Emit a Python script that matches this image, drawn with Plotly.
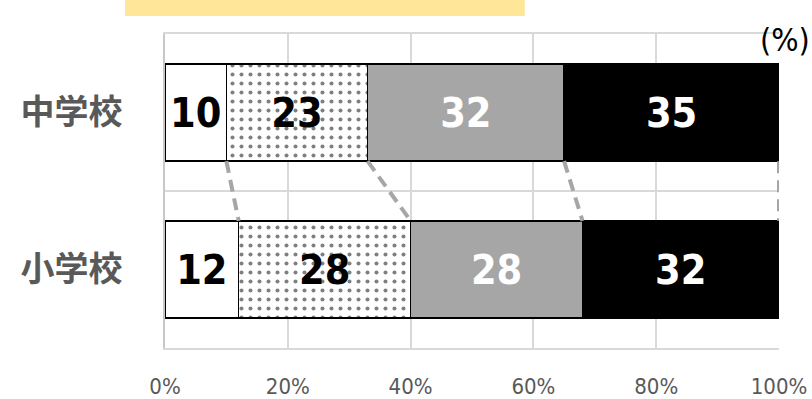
import plotly.graph_objects as go

# School levels (bottom to top) and answer shares in percent
schools = ["小学校", "中学校"]
shares = {
    "a": [12, 10],
    "b": [28, 23],
    "c": [28, 32],
    "d": [32, 35],
}
fills = {"a": "#ffffff", "b": "#ffffff", "c": "#a6a6a6", "d": "#000000"}
label_colors = {"a": "#000000", "b": "#000000", "c": "#ffffff", "d": "#ffffff"}
x_ticks = [0, 20, 40, 60, 80, 100]
x_tick_text = ["0%", "20%", "40%", "60%", "80%", "100%"]

BAR_W = 0.62
ypos = list(range(len(schools)))
NARROW = "DejaVu Sans Condensed, DejaVu Sans, sans-serif"

fig = go.Figure()

for key, vals in shares.items():
    pattern = dict(shape=".", fgcolor="#000000", bgcolor="#ffffff",
                   size=9, solidity=0.16) if key == "b" else None
    fig.add_trace(go.Bar(
        y=ypos, x=vals, orientation="h", width=BAR_W,
        marker=dict(color=fills[key], line=dict(color="#000000", width=1.5),
                    pattern=pattern),
        text=[str(v) for v in vals], textposition="inside",
        insidetextanchor="middle", constraintext="none", textangle=0,
        textfont=dict(family=NARROW, size=41,
                      color=label_colors[key], weight="bold"),
        showlegend=False, hoverinfo="skip",
    ))

# Dashed connectors between cumulative boundaries of the two bars
cum = [0, 0]
for key, vals in shares.items():
    cum = [c + v for c, v in zip(cum, vals)]
    fig.add_trace(go.Scatter(
        x=[cum[1], cum[0]], y=[1 - BAR_W / 2, 0 + BAR_W / 2],
        mode="lines", line=dict(color="#a6a6a6", width=4, dash="12px,7px"),
        showlegend=False, hoverinfo="skip",
    ))

fig.update_layout(
    width=812, height=399,
    margin=dict(l=165, r=33, t=34, b=51),
    barmode="stack",
    plot_bgcolor="#ffffff", paper_bgcolor="#ffffff",
    xaxis=dict(range=[0, 100], tickvals=x_ticks, ticktext=x_tick_text,
               automargin=False,
               showgrid=True, gridcolor="#d9d9d9", gridwidth=1.5,
               zeroline=False, showline=True, linecolor="#d9d9d9",
               linewidth=1.5, mirror=True, ticks="",
               ticklabelstandoff=18,
               tickfont=dict(family=NARROW, size=22, color="#595959")),
    yaxis=dict(range=[-0.5, 1.5], tickvals=ypos, ticktext=schools,
               automargin=False,
               showgrid=False, zeroline=False,
               showline=True, linecolor="#c8c8c8", linewidth=1.5,
               ticks="", ticklabelstandoff=34,
               tickfont=dict(family="Noto Sans CJK JP", size=34,
                             color="#595959", weight="bold"),
               minor=dict(tick0=-0.5, dtick=1, showgrid=True,
                          gridcolor="#d9d9d9", gridwidth=1.5, ticks="")),
    shapes=[dict(type="rect", xref="paper", yref="paper",
                 x0=-0.065, x1=0.586, y0=1.057, y1=1.2,
                 fillcolor="#ffe699", line=dict(width=0), layer="above")],
    annotations=[dict(text="(%)", xref="paper", yref="paper",
                      x=0.966, y=0.98, xanchor="left", yanchor="middle",
                      showarrow=False,
                      font=dict(family=NARROW, size=32, color="#000000"))],
)

fig.write_html("out.html")
